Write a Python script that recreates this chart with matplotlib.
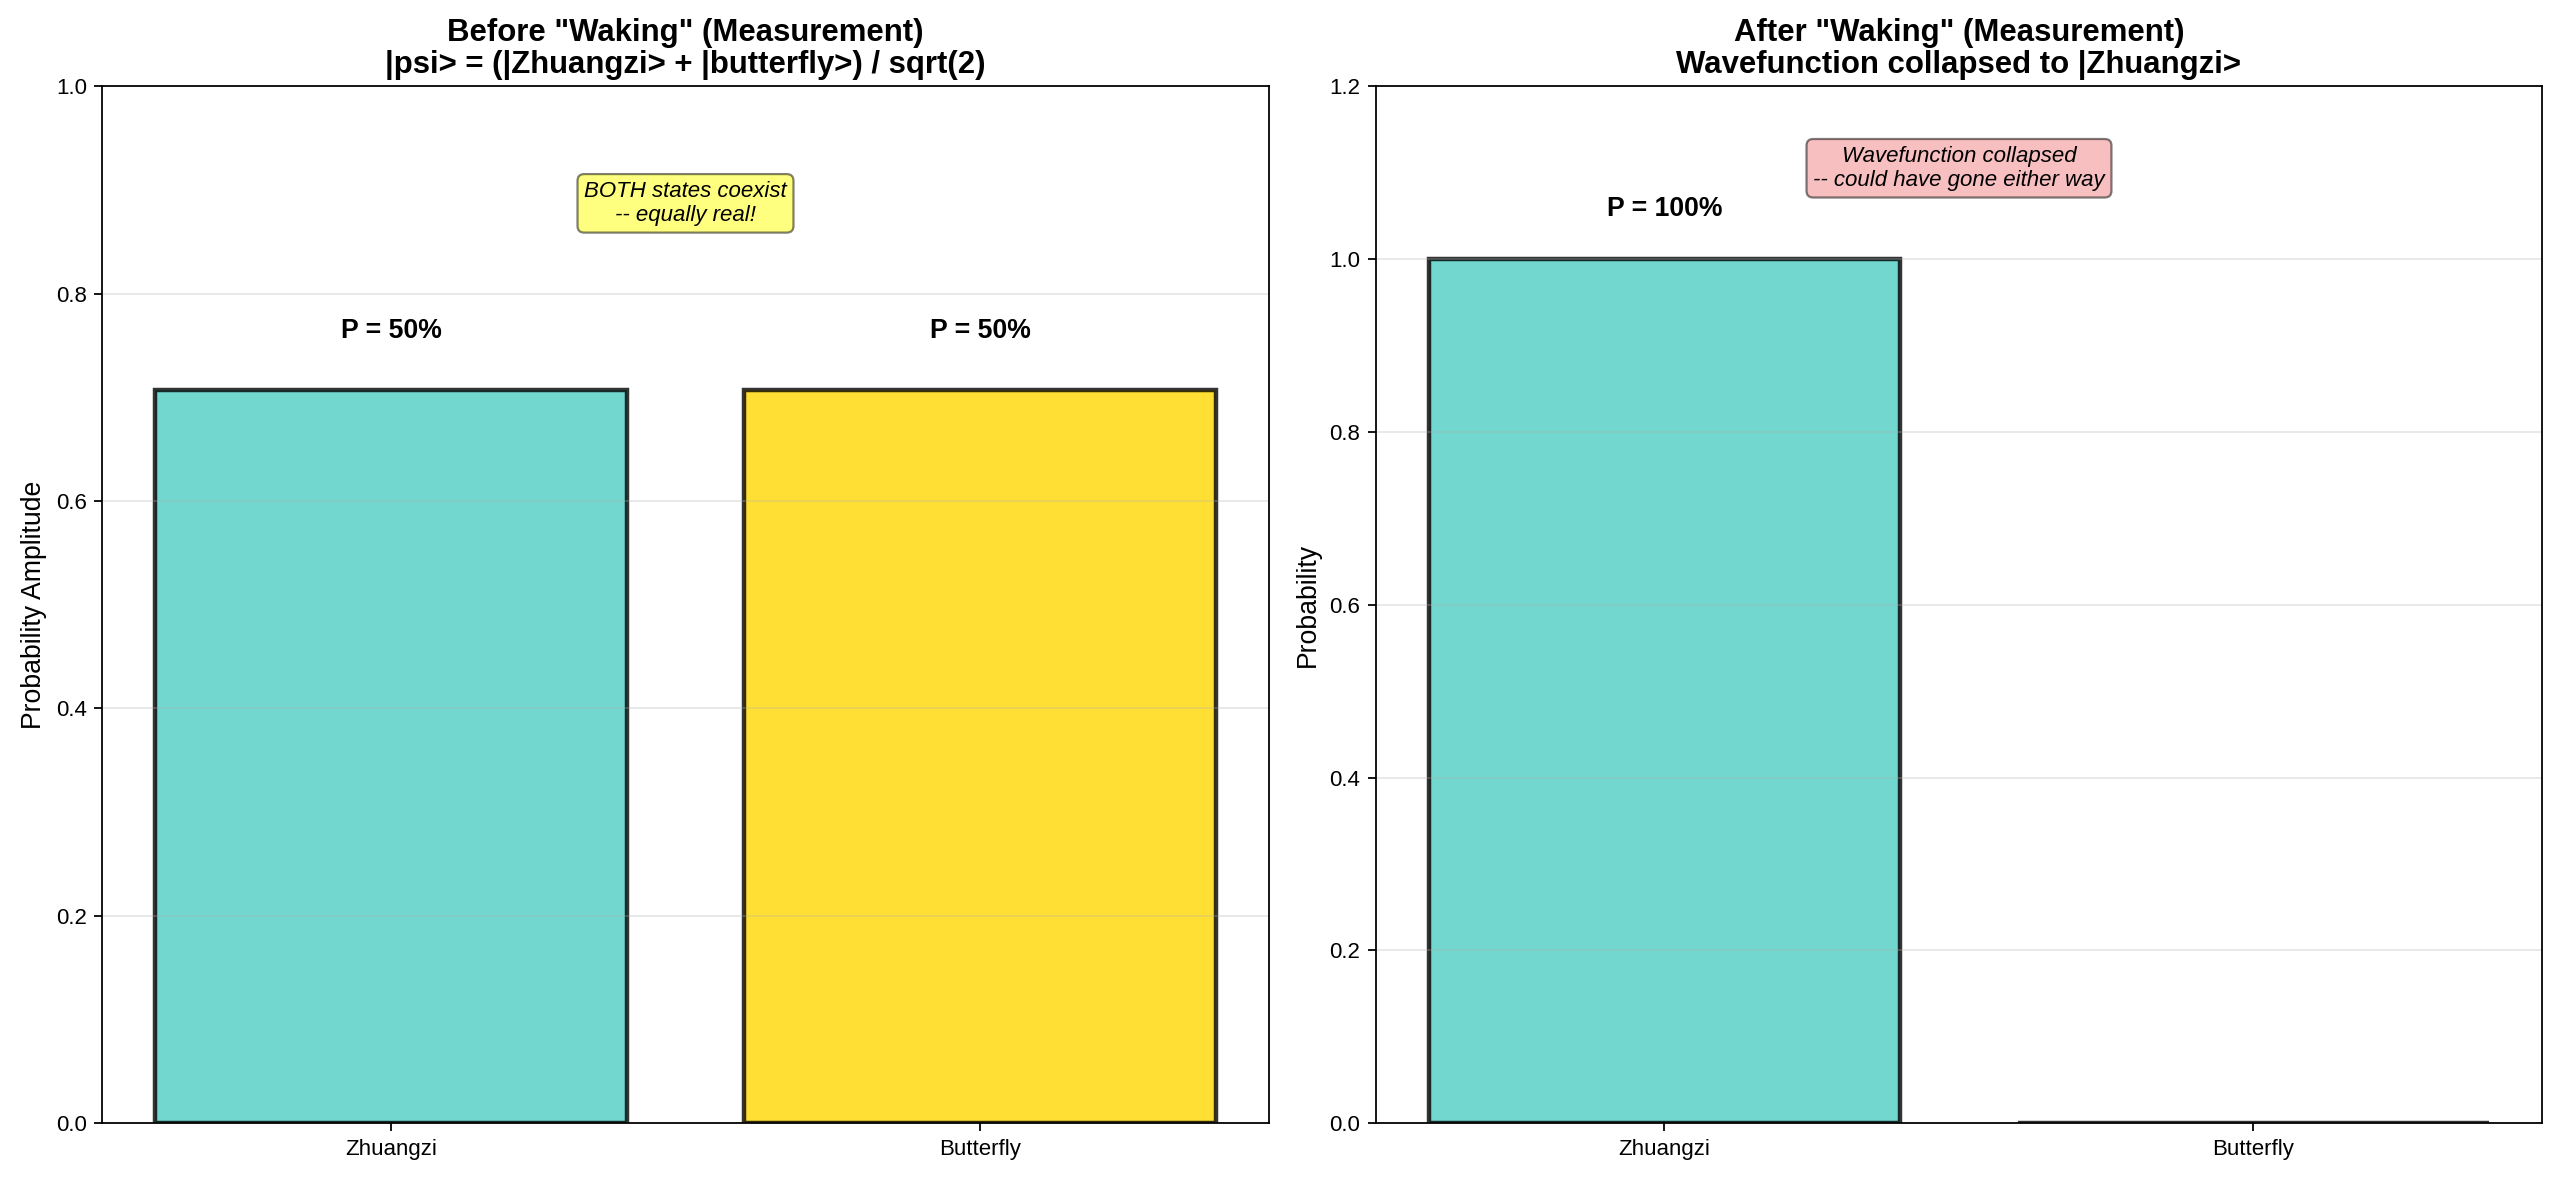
import matplotlib
matplotlib.use("Agg")
import matplotlib.pyplot as plt
import numpy as np

plt.rcParams['font.family'] = ['Liberation Sans', 'DejaVu Sans']

states = ['Zhuangzi', 'Butterfly']
amp_before = [1 / np.sqrt(2), 1 / np.sqrt(2)]
prob_before = ['P = 50%', 'P = 50%']
prob_after = [1.0, 0.0]
label_after = 'P = 100%'
colors_before = ['#4ECDC4', '#FFD700']
colors_after = ['#4ECDC4', '#FFD700']

fig, (ax1, ax2) = plt.subplots(1, 2, figsize=(16, 7.375), dpi=160)

# before measurement
ax1.bar(states, amp_before, color=colors_before, alpha=0.8,
        edgecolor='black', linewidth=2)
for i, a in enumerate(amp_before):
    ax1.text(i, a + 0.05, prob_before[i], ha='center', fontsize=12, fontweight='bold')
ax1.set_ylim(0, 1)
ax1.set_ylabel('Probability Amplitude', fontsize=12)
ax1.set_title('Before "Waking" (Measurement)\n|psi> = (|Zhuangzi> + |butterfly>) / sqrt(2)',
              fontsize=14, fontweight='bold', linespacing=1.1)
ax1.grid(axis='y', alpha=0.3)
ax1.text(0.5, 0.887, 'BOTH states coexist\n-- equally real!', ha='center', va='center',
         fontsize=10, style='italic',
         bbox=dict(boxstyle='round', facecolor='yellow', alpha=0.5))

# after measurement
ax2.bar(states, prob_after, color=colors_after, alpha=0.8,
        edgecolor='black', linewidth=2)
ax2.text(0, prob_after[0] + 0.05, label_after, ha='center', fontsize=12, fontweight='bold')
ax2.set_ylim(0, 1.2)
ax2.set_ylabel('Probability', fontsize=12)
ax2.set_title('After "Waking" (Measurement)\nWavefunction collapsed to |Zhuangzi>',
              fontsize=14, fontweight='bold', linespacing=1.1)
ax2.grid(axis='y', alpha=0.3)
ax2.text(0.5, 1.105, 'Wavefunction collapsed\n-- could have gone either way', ha='center',
         va='center', fontsize=10, style='italic',
         bbox=dict(boxstyle='round', facecolor='lightcoral', alpha=0.5))

plt.subplots_adjust(left=0.040, right=0.993, top=0.927, bottom=0.048, wspace=0.092)
plt.savefig('out.png', dpi=160)
